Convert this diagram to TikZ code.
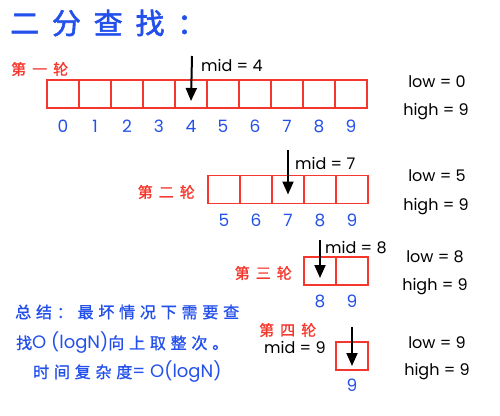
\documentclass[tikz,border=0pt]{standalone}
\usepackage{fontspec}
\setmainfont{Poppins}
\newfontfamily\cjk[LetterSpace=40,FakeBold=1.2]{Noto Sans CJK SC}
\newfontfamily\cjkt[LetterSpace=44,FakeBold=2]{Noto Sans CJK SC}
\newfontfamily\cjks[LetterSpace=30,FakeBold=1.2]{Noto Sans CJK SC}
\usetikzlibrary{arrows.meta}
\definecolor{cblue}{RGB}{35,80,235}
\definecolor{cred}{RGB}{245,55,45}
\tikzset{
  cell/.style={draw=cred, line width=1.3pt, minimum width=32pt, minimum height=28pt, inner sep=0pt, outer sep=0pt},
  idx/.style={text=cblue, font=\fontsize{17}{18}\selectfont, inner sep=0pt},
  lbl/.style={text=black, font=\fontsize{16}{18}\selectfont, inner sep=0pt},
  rnd/.style={text=cred, font=\cjk\fontsize{15}{16}\selectfont, inner sep=0pt},
  summ/.style={text=cblue, font=\cjks\fontsize{16}{18}\selectfont, inner sep=0pt, anchor=west},
  arr/.style={line width=2pt, -{Triangle[width=11pt,length=13pt]}},
}
\newcommand{\lat}[1]{{\normalfont\fontsize{18}{18}\selectfont #1}}
\begin{document}
\begin{tikzpicture}[x=1pt,y=-1pt]
\useasboundingbox (0,0) rectangle (500,415);
% title
\node[anchor=west, text=cblue, font=\cjkt\fontsize{29}{30}\selectfont, inner sep=0pt] (title) at (10,23) {二分查找：};
% round 1
\node[rnd, anchor=west] (r1) at (11,69) {第一轮};
\foreach \i in {0,...,9} {
  \node[cell] (a\i) at (63+32*\i,94) {};
  \node[idx] (na\i) at (63+32*\i,126) {\i};
}
\coordinate (s1) at (192,56);
\draw[arr] (s1) -- ([yshift=-7pt]a4.center);
\node[lbl, anchor=west] (m1) at (201,65) {mid = 4};
\node[lbl] (lo1) at (437,82) {low = 0};
\node[lbl] (hi1) at (436,112) {high = 9};
% round 2
\node[rnd, anchor=east] (r2) at (195,192) {第二轮};
\foreach \i/\v in {0/5,1/6,2/7,3/8,4/9} {
  \node[cell] (b\i) at (224+32*\i,189.5) {};
  \node[idx] (nb\i) at (224+32*\i,220) {\v};
}
\coordinate (s2) at (288,150);
\draw[arr] (s2) -- ([yshift=-5pt]b2.center);
\node[lbl, anchor=west] (m2) at (295,163) {mid = 7};
\node[lbl] (lo2) at (437,176) {low = 5};
\node[lbl] (hi2) at (436,207) {high = 9};
% round 3
\node[rnd, anchor=east] (r3) at (292,273) {第三轮};
\foreach \i/\v in {0/8,1/9} {
  \node[cell] (c\i) at (320+32*\i,271) {};
  \node[idx] (nc\i) at (320+32*\i,301) {\v};
}
\coordinate (s3) at (320,240);
\draw[arr] (s3) -- ([yshift=-7pt]c0.center);
\node[lbl, anchor=west] (m3) at (325,248) {mid = 8};
\node[lbl] (lo3) at (435,257) {low = 8};
\node[lbl] (hi3) at (435,287) {high = 9};
% round 4
\node[rnd, anchor=west] (r4) at (259,330) {第四轮};
\node[cell] (d0) at (352,356) {};
\node[idx] (nd0) at (352,385) {9};
\coordinate (s4) at (352,327);
\draw[arr] (s4) -- ([yshift=-10pt]d0.center);
\node[lbl, anchor=west] (m4) at (264,347) {mid = 9};
\node[lbl] (lo4) at (437,343) {low = 9};
\node[lbl] (hi4) at (437,372) {high = 9};
% summary
\node[summ] (t1) at (15,312) {总结：最坏情况下需要查};
\node[summ] (t2) at (16,343) {找\lat{O (logN)}向上取整次。};
\node[summ] (t3) at (33,372) {时间复杂度\lat{= O(logN)}};
\end{tikzpicture}
\end{document}
